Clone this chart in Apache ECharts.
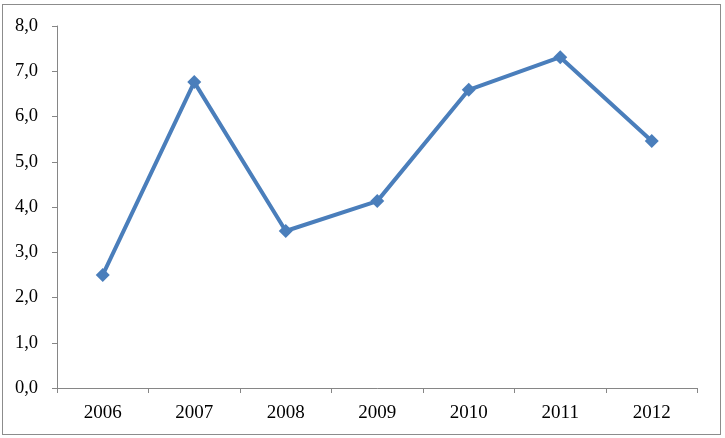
<!DOCTYPE html>
<html>
<head>
<meta charset="utf-8">
<script src="https://cdn.jsdelivr.net/npm/echarts@6/dist/echarts.min.js"></script>
<style>
  html, body { margin: 0; padding: 0; background: #fff; }
  #frame { position: absolute; left: 2px; top: 4px; width: 717px; height: 429px; border: 1px solid #8c8c8c; }
  #chart { position: absolute; left: 0; top: 0; width: 725px; height: 438px; }
</style>
</head>
<body>
<div id="frame"></div>
<div id="chart"></div>
<script>
// years on the x axis
var years = ['2006', '2007', '2008', '2009', '2010', '2011', '2012'];
// values
var values = [2.50, 6.76, 3.47, 4.13, 6.59, 7.31, 5.46];

var chart = echarts.init(document.getElementById('chart'));
chart.setOption({
    animation: false,
    grid: { left: 57, right: 27.5, top: 26, bottom: 50 },
    xAxis: {
        type: 'category',
        data: years,
        boundaryGap: true,
        axisLine: { lineStyle: { color: '#868686', width: 1 } },
        axisTick: { show: true, length: 5, alignWithLabel: false, lineStyle: { color: '#868686' } },
        axisLabel: { color: '#000', fontFamily: 'Liberation Serif', fontSize: 19, margin: 16 }
    },
    yAxis: {
        type: 'value',
        min: 0,
        max: 8,
        interval: 1,
        axisLine: { show: true, lineStyle: { color: '#868686', width: 1 } },
        axisTick: { show: true, length: 5, lineStyle: { color: '#868686' } },
        splitLine: { show: false },
        axisLabel: {
            color: '#000', fontFamily: 'Liberation Serif', fontSize: 18.5, margin: 19,
            formatter: function (v) { return v.toFixed(1).replace('.', ','); }
        }
    },
    series: [{
        type: 'line',
        data: values,
        symbol: 'diamond',
        symbolSize: 14,
        lineStyle: { color: '#4a7ebb', width: 4 },
        itemStyle: { color: '#4a7ebb' }
    }]
});
</script>
</body>
</html>
